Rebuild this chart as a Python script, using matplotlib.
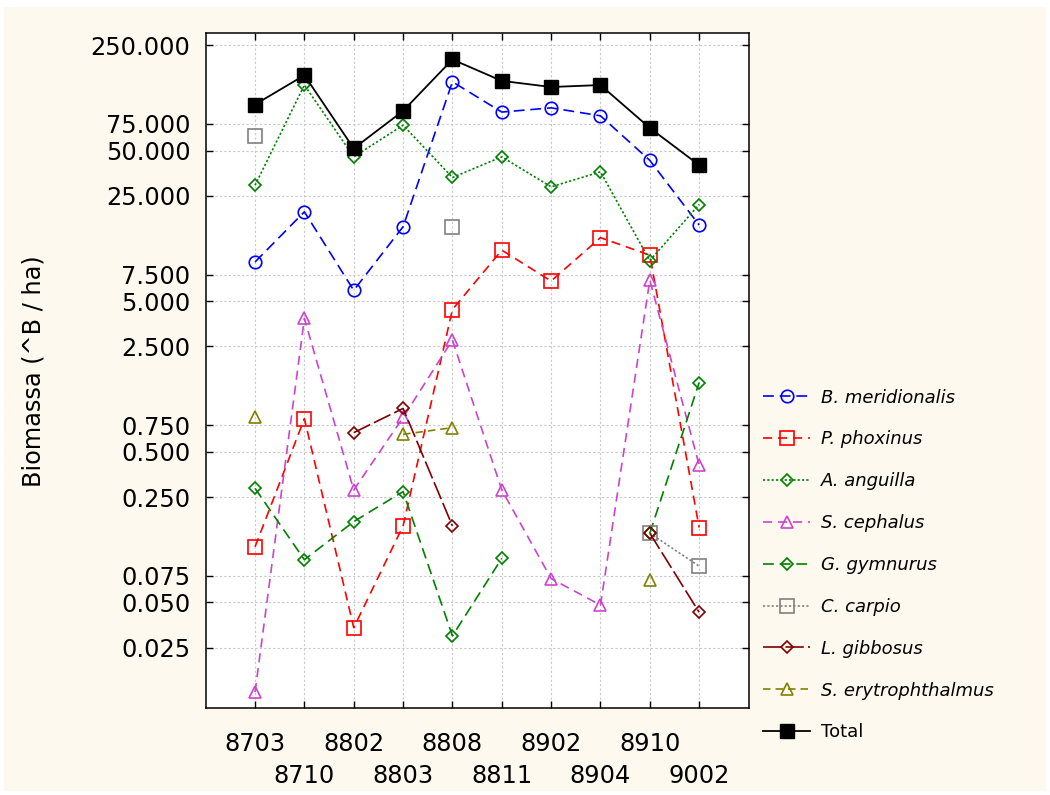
import matplotlib
matplotlib.use('Agg')
import matplotlib.pyplot as plt
import numpy as np
from matplotlib.patches import Rectangle
from matplotlib.ticker import FixedLocator, FixedFormatter, NullLocator

nan = np.nan

periods = ['8703', '8710', '8802', '8803', '8808', '8811', '8902', '8904', '8910', '9002']

b_meridionalis = [9.1, 19.6, 5.9, 15.6, 143, 90, 96, 85, 43, 16.0]
p_phoxinus = [0.117, 0.83, 0.034, 0.161, 4.4, 10.9, 6.8, 13.2, 10.1, 0.157]
a_anguilla = [29.4, 136, 45.4, 73.6, 33.1, 45.4, 28.7, 36.1, 9.3, 21.9]
s_cephalus = [0.0127, 3.84, 0.279, 0.845, 2.76, 0.279, 0.072, 0.048, 6.9, 0.408]
g_gymnurus = [0.286, 0.096, 0.172, 0.272, 0.030, 0.098, nan, nan, 0.144, 1.44]
c_carpio = [62, nan, nan, nan, 15.6, nan, nan, nan, 0.144, 0.087]
l_gibbosus = [nan, nan, 0.67, 0.97, 0.161, nan, nan, nan, 0.144, 0.043]
s_erytrophthalmus = [0.855, nan, nan, 0.653, 0.723, nan, nan, nan, 0.0705, nan]
total = [101, 158, 51.6, 91.6, 201, 145, 132, 136, 70.6, 40]

y_ticks = [0.025, 0.05, 0.075, 0.25, 0.5, 0.75, 2.5, 5, 7.5, 25, 50, 75, 250]

BIG = 17.3
CREAM = '#fdf9ee'

# dash lengths are in units of line width (lw = 1.2)
series = [
    ('B. meridionalis', b_meridionalis,
     dict(color='#0000ff', ls=(0, (6.5, 3.5)), marker='o', ms=9.0)),
    ('P. phoxinus', p_phoxinus,
     dict(color='#ff0000', ls=(0, (5.5, 3.5)), marker='s', ms=9.6)),
    ('A. anguilla', a_anguilla,
     dict(color='#008000', ls=(0, (1.3, 1.3)), marker='D', ms=6.6)),
    ('S. cephalus', s_cephalus,
     dict(color='#cc44cc', ls=(0, (5.5, 3.5)), marker='^', ms=9.0)),
    ('G. gymnurus', g_gymnurus,
     dict(color='#008000', ls=(0, (6.5, 3.5)), marker='D', ms=6.6)),
    ('C. carpio', c_carpio,
     dict(color='#808080', ls=(0, (1.3, 1.3)), marker='s', ms=9.6)),
    ('L. gibbosus', l_gibbosus,
     dict(color='#800000', ls=(0, (11, 2.5)), marker='D', ms=6.6)),
    ('S. erytrophthalmus', s_erytrophthalmus,
     dict(color='#808000', ls=(0, (4.5, 3)), marker='^', ms=9.0)),
]

x = np.arange(1, len(periods) + 1)

fig = plt.figure(figsize=(10.5, 7.95), dpi=100, facecolor='white')
fig.patches.append(Rectangle((4 / 1050, 4 / 795), 1042 / 1050, 784 / 795,
                             transform=fig.transFigure, facecolor=CREAM,
                             edgecolor='none', zorder=-10))

ax = fig.add_axes([205.7 / 1050, 1 - 707.7 / 795, 542.8 / 1050, 674.4 / 795])
ax.set_facecolor('white')

for name, values, st in series:
    ax.plot(x, values, label=name, lw=1.2, mfc='none', mew=1.2, **st)
ax.plot(x, total, label='Total', color='black', lw=1.3, marker='s', ms=10.5,
        mfc='black', mec='black')

ax.set_yscale('log')
ax.set_ylim(0.01, 300)
ax.set_xlim(0, 11)

ax.yaxis.set_major_locator(FixedLocator(y_ticks))
ax.yaxis.set_major_formatter(FixedFormatter(['%.3f' % v for v in y_ticks]))
ax.yaxis.set_minor_locator(NullLocator())

ax.set_xticks(x[0::2])
ax.set_xticklabels(periods[0::2])
ax.set_xticks(x[1::2], minor=True)
ax.set_xticklabels(periods[1::2], minor=True)

ax.tick_params(which='both', direction='in', length=7 * 0.72, width=1.0,
               top=True, right=True, labelsize=BIG, color='black')
ax.tick_params(axis='y', pad=11)
ax.tick_params(axis='x', which='major', pad=17.2)
ax.tick_params(axis='x', which='minor', pad=40.7)

ax.grid(True, which='both', color='#c8c8c8', ls=(0, (2, 2)), lw=0.8)
ax.set_axisbelow(True)
for sp in ax.spines.values():
    sp.set_linewidth(1.1)
    sp.set_color('black')

fig.text(34 / 1050, 1 - 371 / 795, 'Biomassa (^B / ha)', rotation=90,
         ha='center', va='center', fontsize=BIG)

leg = ax.legend(loc='center left', bbox_to_anchor=(754 / 1050, 1 - 565 / 795),
                bbox_transform=fig.transFigure, frameon=False, fontsize=13,
                handlelength=2.6, handletextpad=0.6, labelspacing=1.32,
                borderpad=0.0)
for t in leg.get_texts():
    if t.get_text() != 'Total':
        t.set_fontstyle('italic')

fig.savefig('out.png', dpi=100, facecolor=fig.get_facecolor())
